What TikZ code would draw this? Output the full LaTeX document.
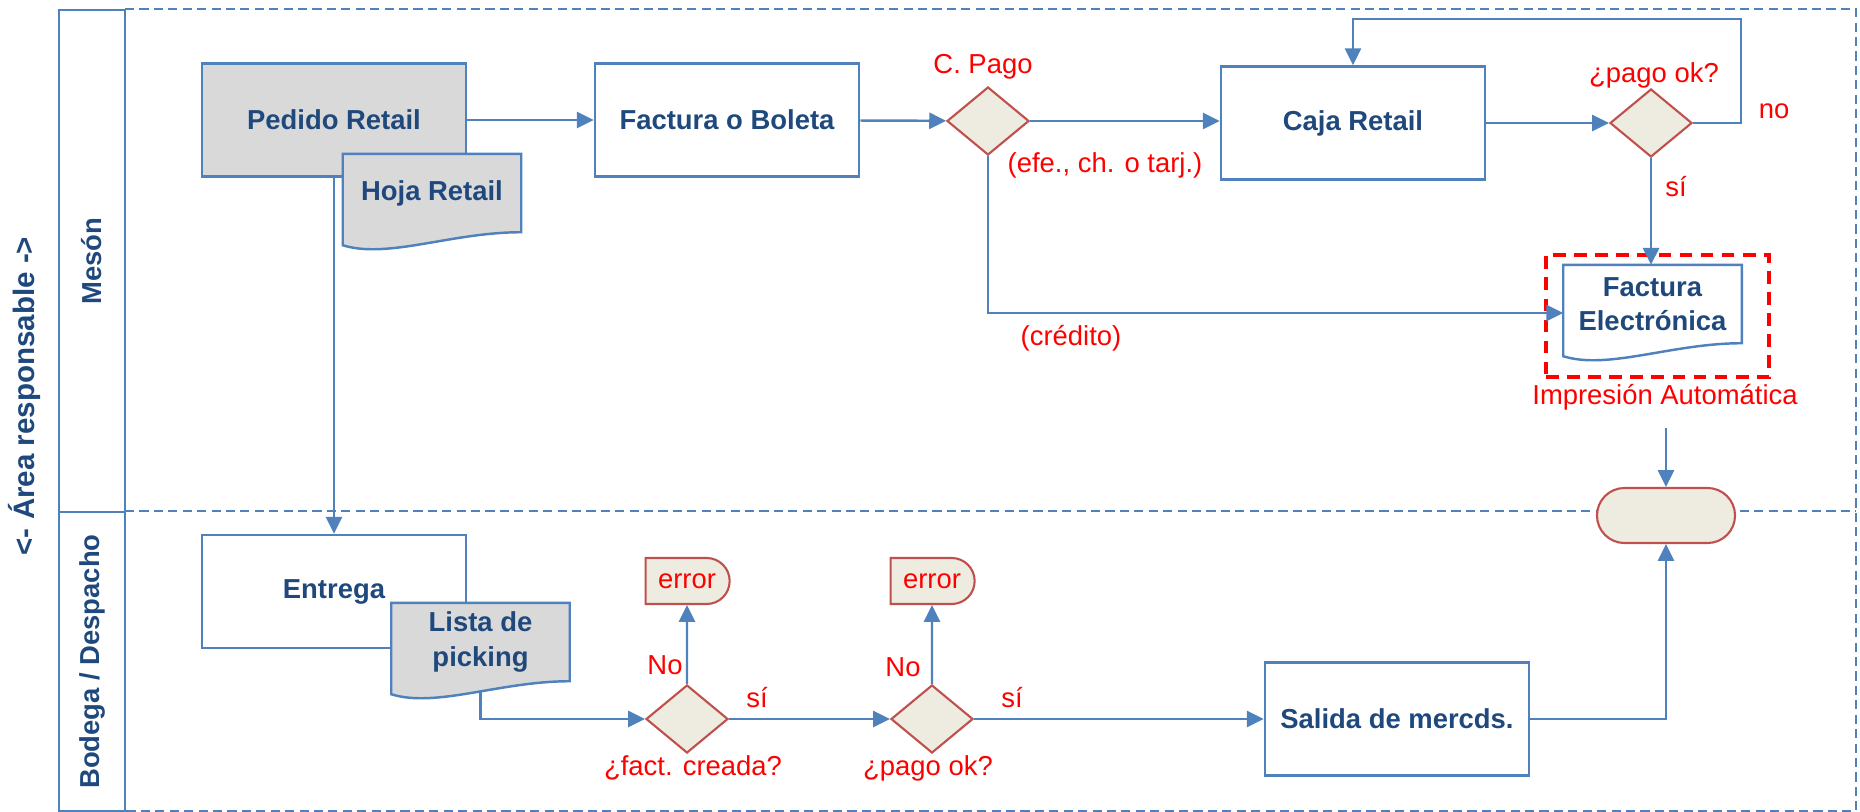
\documentclass[tikz,border=0pt]{standalone}
\usepackage{fontspec}
\setmainfont{Liberation Sans}
\usetikzlibrary{arrows.meta,shapes.geometric,shapes.misc}
\definecolor{lineblue}{RGB}{79,129,189}
\definecolor{textblue}{RGB}{31,73,125}
\definecolor{decred}{RGB}{192,80,77}
\definecolor{decfill}{RGB}{238,236,225}
\definecolor{docgray}{RGB}{217,217,217}
\definecolor{lblred}{RGB}{255,0,0}
\newcommand{\boxfont}{\fontsize{7.8}{9.8}\selectfont\bfseries}
\newcommand{\lblfont}{\fontsize{7.8}{9.4}\selectfont}
\newcommand{\areafont}{\fontsize{8.4}{10}\selectfont\bfseries}
\def\docnode(#1)(#2)[#3]#4{\node[docframe] (#1) at (#2) {};
	\draw[docline, fill=#3] (#1.north west) -- (#1.north east) -- (#1.south east) .. controls +(-70,0) and +(45,14) .. ([yshift=-1.3mm]#1.south west) -- cycle;
	\node[doctext] (#1-text) at (#1) {#4};}
\tikzset{
	proc/.style={draw=lineblue, line width=0.7pt, fill=white, minimum width=2.64cm, minimum height=1.13cm, inner sep=0pt, font=\boxfont, text=textblue},
	docframe/.style={minimum width=1.77cm, minimum height=0.77cm, inner sep=0pt},
	docline/.style={draw=lineblue, line width=0.7pt},
	doctext/.style={inner sep=0pt, font=\boxfont, text=textblue, align=center},
	decnode/.style={diamond, draw=decred, fill=decfill, line width=0.6pt, minimum width=0.82cm, minimum height=0.68cm, inner sep=0pt},
	errnode/.style={rounded rectangle, rounded rectangle west arc=none, draw=decred, fill=decfill, line width=0.6pt, minimum width=0.84cm, minimum height=0.46cm, inner sep=0pt, text=lblred, font=\lblfont},
	termnode/.style={rounded rectangle, draw=decred, fill=decfill, line width=0.6pt, minimum width=1.38cm, minimum height=0.55cm, inner sep=0pt},
	lbl/.style={inner sep=0pt, text=lblred, font=\lblfont},
	flow/.style={draw=lineblue, line width=0.7pt, -{Triangle[length=4.8pt,width=4.6pt]}},
	lanehead/.style={draw=lineblue, line width=0.7pt, rotate=90, minimum height=0.66cm, inner sep=0pt, font=\boxfont, text=textblue},
	lanedash/.style={draw=lineblue, line width=0.5pt, dash pattern=on 2.6pt off 1.5pt},
	autobox/.style={draw=lblred, line width=1.2pt, dash pattern=on 3.6pt off 2.4pt, minimum width=2.23cm, minimum height=1.22cm}
}
\begin{document}
\begin{tikzpicture}[x=0.01cm, y=-0.01cm]
	%%%%% START %%%%%
	\useasboundingbox (0,0) rectangle (1860,812);
	
	% lanes
	\draw[lanedash] (125,9) -- (1856,9) -- (1856,811) -- (125,811);
	\draw[lanedash] (125,511) -- (1856,511);
	\node[lanehead, minimum width=5.02cm] (meson) at (92,261) {Mesón};
	\node[lanehead, minimum width=2.99cm] (bodega) at (92,661.5) {Bodega / Despacho};
	\node[rotate=90, inner sep=0pt, font=\areafont, text=textblue] (area) at (24,396) {<- Área responsable ->};
	
	% meson
	\node[proc, fill=docgray] (pedido) at (334,120) {Pedido Retail};
	\docnode(hoja)(432,193)[docgray]{Hoja Retail}
	\node[proc] (factura) at (727,120) {Factura o Boleta};
	\node[decnode] (cpago) at (988,121) {};
	\node[proc] (caja) at (1353,123) {Caja Retail};
	\node[decnode] (pagook) at (1651,123) {};
	\node[autobox] (autoframe) at (1657.5,316) {};
	\docnode(facel)(1652.5,304)[white]{Factura\\Electrónica}
	\node[termnode] (term) at (1666,515.5) {};
	\coordinate (impr) at (1666,428);
	
	% bodega
	\node[proc] (entrega) at (334,591.5) {Entrega};
	\docnode(lista)(480.5,642)[docgray]{Lista de\\picking}
	\node[decnode] (fcreada) at (687,719) {};
	\node[errnode] (err1) at (687,581) {error};
	\node[decnode] (pagook2) at (932,719) {};
	\node[errnode] (err2) at (932,581) {error};
	\node[proc] (salida) at (1397,719) {Salida de mercds.};
	
	% labels
	\node[lbl] (cpagolbl) at (983,67) {C. Pago};
	\node[lbl] (efelbl) at (1105,165) {(efe., ch. o tarj.)};
	\node[lbl] (credlbl) at (1071,338) {(crédito)};
	\node[lbl] (pagooklbl) at (1654,75) {¿pago ok?};
	\node[lbl] (nolbl) at (1774,111) {no};
	\node[lbl] (silbl) at (1676,187) {sí};
	\node[lbl] (imprlbl) at (1665,397) {Impresión Automática};
	\node[lbl] (no1lbl) at (665,665) {No};
	\node[lbl] (si1lbl) at (757,698) {sí};
	\node[lbl] (fcreadalbl) at (693,768) {¿fact. creada?};
	\node[lbl] (no2lbl) at (903,667) {No};
	\node[lbl] (si2lbl) at (1012,698) {sí};
	\node[lbl] (pagook2lbl) at (928,768) {¿pago ok?};
	
	% connectors
	\draw[flow] (pedido) -- (factura);
	\draw[flow] (factura) -- (cpago);
	\draw[flow] (cpago.east) -- (caja.west |- cpago.east);
	\draw[flow] (caja) -- (pagook);
	\draw[flow] (pagook.east) -- ++(48,0) |- ([yshift=4.6mm]caja.north) -- (caja.north);
	\draw[flow] (pagook.south) -- (pagook.south |- facel.north);
	\draw[flow] (cpago.south) |- ([yshift=-0.9mm]facel.west);
	\draw[flow] (impr) -- (term);
	\draw[flow] (pedido) -- (entrega);
	\draw[flow] ([yshift=-1.1mm]lista.south) |- (fcreada.west);
	\draw[flow] (fcreada) -- (pagook2);
	\draw[flow] (fcreada) -- (err1);
	\draw[flow] (pagook2) -- (err2);
	\draw[flow] (pagook2) -- (salida);
	\draw[flow] (salida.east) -| (term.south);
	
	%%%%% END %%%%%
\end{tikzpicture}
\end{document}
